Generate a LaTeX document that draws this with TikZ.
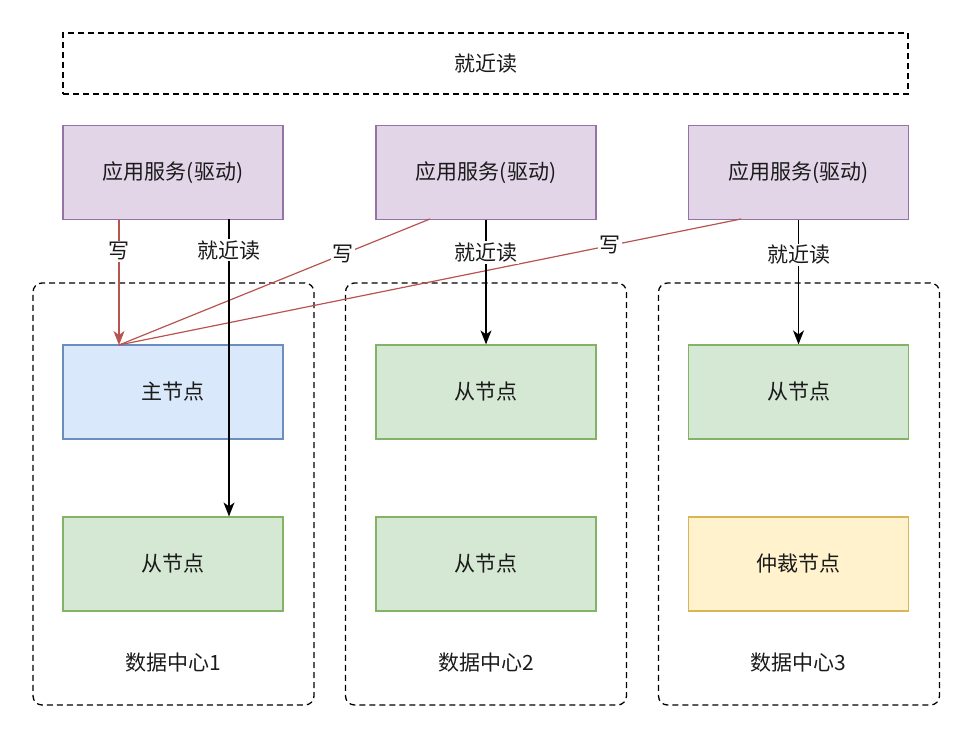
\documentclass[tikz,border=0pt]{standalone}
\usepackage{fontspec}
\setmainfont{Noto Sans CJK SC}
\usetikzlibrary{arrows.meta}
\definecolor{purplefill}{HTML}{E1D5E7}
\definecolor{purpleline}{HTML}{9673A6}
\definecolor{bluefill}{HTML}{DAE8FC}
\definecolor{blueline}{HTML}{6C8EBF}
\definecolor{greenfill}{HTML}{D5E8D4}
\definecolor{greenline}{HTML}{82B366}
\definecolor{yellowfill}{HTML}{FFF2CC}
\definecolor{yellowline}{HTML}{D6B656}
\definecolor{redline}{HTML}{B85450}
\definecolor{textcol}{HTML}{1A1A1A}
\begin{document}
\begin{tikzpicture}[x=1pt,y=-1pt,
  every node/.style={font=\fontsize{21}{25}\selectfont, text=textcol},
  box/.style={draw, line width=1.2pt, minimum width=220pt, minimum height=94pt, inner sep=0pt},
  appbox/.style={box, fill=purplefill, draw=purpleline},
  mainbox/.style={box, fill=bluefill, draw=blueline},
  slavebox/.style={box, fill=greenfill, draw=greenline},
  arbbox/.style={box, fill=yellowfill, draw=yellowline},
  dashline/.style={draw, line width=1.3pt, dash pattern=on 6pt off 4pt},
  dcbox/.style={dashline, rounded corners=9pt, minimum width=281pt, minimum height=422pt, inner sep=0pt},
  topbox/.style={dashline, minimum width=845pt, minimum height=61pt, inner sep=0pt},
  tip/.style={-{Stealth[length=14pt,width=11pt,inset=4pt]}},
  readarrow/.style={tip, line width=1.2pt, black},
  writeline/.style={line width=1.2pt, redline},
  writearrow/.style={tip, writeline},
  lbl/.style={fill=white, inner sep=1.5pt, text=textcol}
]
\useasboundingbox (0,0) rectangle (972,738);
\node[topbox] (top) at (485.5,63.5) {就近读};
\node[dcbox] (dc1) at (173.5,494) {};
\node[dcbox] (dc2) at (486,494) {};
\node[dcbox] (dc3) at (799,494) {};
\node (dc1l) at (173,663) {数据中心1};
\node (dc2l) at (486,663) {数据中心2};
\node (dc3l) at (798,663) {数据中心3};
\node[appbox] (app1) at (173,172.5) {应用服务(驱动)};
\node[appbox] (app2) at (486,172.5) {应用服务(驱动)};
\node[appbox] (app3) at (798.5,172.5) {应用服务(驱动)};
\node[mainbox] (main) at (173,392) {主节点};
\node[slavebox] (s1) at (173,564) {从节点};
\node[slavebox] (s2a) at (486,392) {从节点};
\node[slavebox] (s2b) at (486,564) {从节点};
\node[slavebox] (s3) at (798.5,392) {从节点};
\node[arbbox] (arb) at (798.5,564) {仲裁节点};
\coordinate (w) at (119,345);
% write arrows
\draw[writearrow] (app1.south -| w) -- node[lbl, pos=0.25] {写} (w);
\draw[writeline] (430,219) -- node[lbl, pos=0.28] {写} (w);
\draw[writeline] (741,219) -- node[lbl, pos=0.21] {写} (w);
% read arrows
\draw[readarrow] (229,219) -- node[lbl, pos=0.105] {就近读} (s1.north -| 229,0);
\draw[readarrow] (app2.south) -- node[lbl, pos=0.26] {就近读} (s2a.north);
\draw[readarrow] (app3.south) -- node[lbl, pos=0.28] {就近读} (s3.north);
\end{tikzpicture}
\end{document}
